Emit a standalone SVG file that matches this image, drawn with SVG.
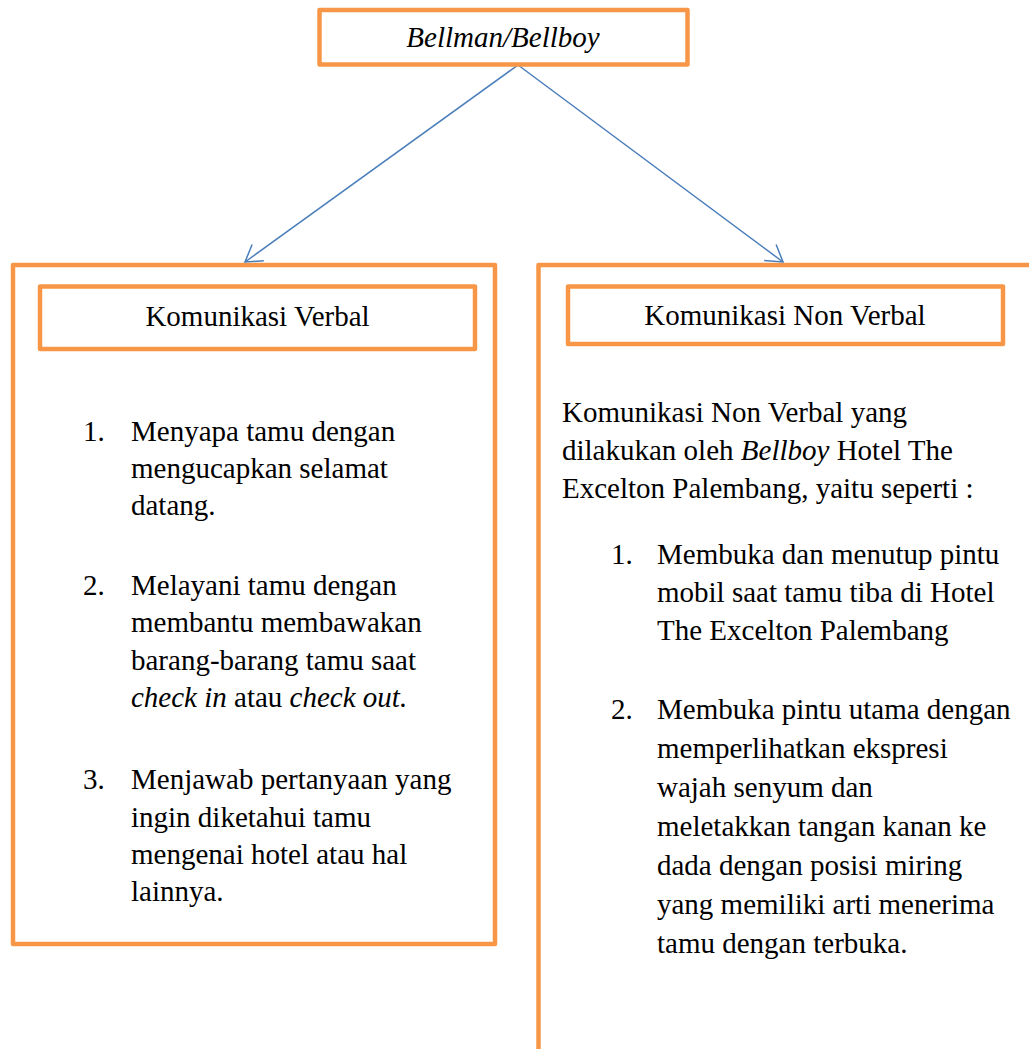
<svg xmlns="http://www.w3.org/2000/svg" width="1029" height="1049" viewBox="0 0 1029 1049">
<defs>
<style>
.box{fill:#fff;stroke:#F79646;stroke-width:4.5;stroke-linejoin:round}
.t{font-family:"Liberation Serif","Times New Roman",serif;font-size:29px;fill:#000}
.c{text-anchor:middle}
.i{font-style:italic}
.conn{fill:none;stroke:#4A7EBB;stroke-width:1.5}
</style>
<marker id="arr" markerUnits="userSpaceOnUse" markerWidth="40" markerHeight="40" viewBox="-20 -20 40 40" refX="0" refY="0" orient="auto" overflow="visible">
<path d="M-16,-10 L0,0 L-16,10" fill="none" stroke="#4A7EBB" stroke-width="1.5"/>
</marker>
</defs>
<rect width="1029" height="1049" fill="#fff"/>
<g id="node-verbal-panel">
<rect class="box" x="13" y="265" width="482" height="679"/>
</g>
<g id="node-nonverbal-panel">
<rect class="box" x="538.5" y="265" width="540" height="820"/>
</g>
<g id="connectors">
<line class="conn" x1="518" y1="65" x2="245" y2="262" marker-end="url(#arr)"/>
<line class="conn" x1="518" y1="65" x2="783" y2="262" marker-end="url(#arr)"/>
</g>
<g id="node-bellman">
<rect class="box" x="319.5" y="10" width="368" height="54.5"/>
<text class="t c i" x="503" y="47">Bellman/Bellboy</text>
</g>
<g id="node-verbal-title">
<rect class="box" x="40" y="286.5" width="435" height="62.5"/>
<text class="t c" x="257.5" y="326">Komunikasi Verbal</text>
</g>
<g id="node-nonverbal-title">
<rect class="box" x="568" y="286.5" width="435" height="57.5"/>
<text class="t c" x="785" y="325">Komunikasi Non Verbal</text>
</g>
<g id="verbal-list">
<text class="t" x="83" y="441">1.</text>
<text class="t" x="131" y="441">Menyapa tamu dengan</text>
<text class="t" x="131" y="478">mengucapkan selamat</text>
<text class="t" x="131" y="515">datang.</text>
<text class="t" x="83" y="595">2.</text>
<text class="t" x="131" y="595">Melayani tamu dengan</text>
<text class="t" x="131" y="632">membantu membawakan</text>
<text class="t" x="131" y="670">barang-barang tamu saat</text>
<text class="t" x="131" y="707"><tspan class="i">check in</tspan> atau <tspan class="i">check out.</tspan></text>
<text class="t" x="83" y="789">3.</text>
<text class="t" x="131" y="789">Menjawab pertanyaan yang</text>
<text class="t" x="131" y="827">ingin diketahui tamu</text>
<text class="t" x="131" y="864">mengenai hotel atau hal</text>
<text class="t" x="131" y="901">lainnya.</text>
</g>
<g id="nonverbal-text">
<text class="t" x="562" y="422">Komunikasi Non Verbal yang</text>
<text class="t" x="562" y="460">dilakukan oleh <tspan class="i">Bellboy</tspan> Hotel The</text>
<text class="t" x="562" y="498">Excelton Palembang, yaitu seperti :</text>
<text class="t" x="611" y="564">1.</text>
<text class="t" x="657" y="564">Membuka dan menutup pintu</text>
<text class="t" x="657" y="602">mobil saat tamu tiba di Hotel</text>
<text class="t" x="657" y="640">The Excelton Palembang</text>
<text class="t" x="611" y="719">2.</text>
<text class="t" x="657" y="719">Membuka pintu utama dengan</text>
<text class="t" x="657" y="758">memperlihatkan ekspresi</text>
<text class="t" x="657" y="797">wajah senyum dan</text>
<text class="t" x="657" y="836">meletakkan tangan kanan ke</text>
<text class="t" x="657" y="875">dada dengan posisi miring</text>
<text class="t" x="657" y="914">yang memiliki arti menerima</text>
<text class="t" x="657" y="953">tamu dengan terbuka.</text>
</g>
</svg>
